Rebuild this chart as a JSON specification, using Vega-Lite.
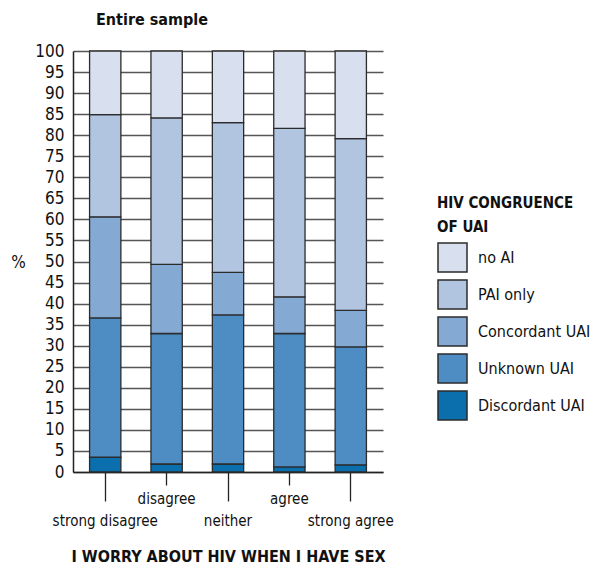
{
  "$schema": "https://vega.github.io/schema/vega-lite/v6.json",
  "width": 310,
  "height": 421,
  "autosize": {"type": "none"},
  "padding": {"left": 73, "top": 51, "right": 209, "bottom": 95},
  "background": "white",
  "config": {
    "font": "DejaVu Sans Condensed, Lato, sans-serif",
    "view": {"stroke": null}
  },
  "title": {
    "text": "Entire sample",
    "anchor": "start",
    "frame": "group",
    "dx": 23,
    "offset": 14,
    "font": "DejaVu Sans Condensed, Lato, sans-serif",
    "fontSize": 16,
    "fontWeight": "bold",
    "color": "#111"
  },
  "data": {
    "values": [
      {"worry": "strong disagree", "type": "Discordant UAI", "pct": 3.5},
      {"worry": "strong disagree", "type": "Unknown UAI", "pct": 33.1},
      {"worry": "strong disagree", "type": "Concordant UAI", "pct": 24.0},
      {"worry": "strong disagree", "type": "PAI only", "pct": 24.3},
      {"worry": "strong disagree", "type": "no AI", "pct": 15.1},
      {"worry": "disagree", "type": "Discordant UAI", "pct": 1.9},
      {"worry": "disagree", "type": "Unknown UAI", "pct": 31.0},
      {"worry": "disagree", "type": "Concordant UAI", "pct": 16.4},
      {"worry": "disagree", "type": "PAI only", "pct": 34.8},
      {"worry": "disagree", "type": "no AI", "pct": 15.9},
      {"worry": "neither", "type": "Discordant UAI", "pct": 1.9},
      {"worry": "neither", "type": "Unknown UAI", "pct": 35.4},
      {"worry": "neither", "type": "Concordant UAI", "pct": 10.1},
      {"worry": "neither", "type": "PAI only", "pct": 35.6},
      {"worry": "neither", "type": "no AI", "pct": 17.0},
      {"worry": "agree", "type": "Discordant UAI", "pct": 1.2},
      {"worry": "agree", "type": "Unknown UAI", "pct": 31.7},
      {"worry": "agree", "type": "Concordant UAI", "pct": 8.7},
      {"worry": "agree", "type": "PAI only", "pct": 40.0},
      {"worry": "agree", "type": "no AI", "pct": 18.4},
      {"worry": "strong agree", "type": "Discordant UAI", "pct": 1.7},
      {"worry": "strong agree", "type": "Unknown UAI", "pct": 28.0},
      {"worry": "strong agree", "type": "Concordant UAI", "pct": 8.7},
      {"worry": "strong agree", "type": "PAI only", "pct": 40.8},
      {"worry": "strong agree", "type": "no AI", "pct": 20.8}
    ]
  },
  "transform": [
    {"calculate": "indexof(['Discordant UAI','Unknown UAI','Concordant UAI','PAI only','no AI'], datum.type)", "as": "stackOrder"}
  ],
  "mark": {"type": "bar", "stroke": "#2b2b2b", "strokeWidth": 1.3},
  "encoding": {
    "x": {
      "field": "worry",
      "type": "nominal",
      "sort": ["strong disagree", "disagree", "neither", "agree", "strong agree"],
      "scale": {"paddingInner": 0.49, "paddingOuter": 0.27},
      "axis": {
        "title": "I WORRY ABOUT HIV WHEN I HAVE SEX",
        "titleFontSize": 16,
        "titleFontWeight": "bold",
        "titleColor": "#111",
        "titlePadding": 20,
        "labelAngle": 0,
        "labelFontSize": 15,
        "labelColor": "#111",
        "labelOverlap": false,
        "domainColor": "#222",
        "domainWidth": 1.5,
        "tickColor": "#222",
        "tickWidth": 1.3,
        "tickSize": {"condition": {"test": "datum.value === 'disagree' || datum.value === 'agree'", "value": 13}, "value": 29},
        "labelPadding": {"condition": {"test": "datum.value === 'disagree' || datum.value === 'agree'", "value": 6}, "value": 12},
        "grid": false
      }
    },
    "y": {
      "field": "pct",
      "type": "quantitative",
      "stack": "zero",
      "scale": {"domain": [0, 100], "nice": false},
      "axis": {
        "title": "%",
        "titleAngle": 0,
        "titleFontSize": 17,
        "titleFontWeight": "normal",
        "titleColor": "#111",
        "titleX": -55,
        "titleY": 211,
        "titleBaseline": "middle",
        "titleAlign": "center",
        "values": [0, 5, 10, 15, 20, 25, 30, 35, 40, 45, 50, 55, 60, 65, 70, 75, 80, 85, 90, 95, 100],
        "labelFontSize": 17,
        "labelColor": "#111",
        "labelPadding": 9,
        "labelOverlap": false,
        "ticks": false,
        "grid": true,
        "gridColor": "#555",
        "gridWidth": 1.6,
        "domainColor": "#222",
        "domainWidth": 1.5
      }
    },
    "color": {
      "field": "type",
      "type": "nominal",
      "scale": {
        "domain": ["no AI", "PAI only", "Concordant UAI", "Unknown UAI", "Discordant UAI"],
        "range": ["#d8dfee", "#b1c5e1", "#84a9d3", "#4d8dc4", "#0b6fae"]
      },
      "legend": {
        "title": ["HIV CONGRUENCE", "OF UAI"],
        "orient": "none",
        "legendX": 364,
        "legendY": 145,
        "titleFontSize": 15,
        "titleFontWeight": "bold",
        "titleColor": "#111",
        "titleLineHeight": 24,
        "titlePadding": 7,
        "titleLimit": 300,
        "symbolType": "square",
        "symbolSize": 841,
        "symbolStrokeColor": "#2b2b2b",
        "symbolStrokeWidth": 1.5,
        "symbolOpacity": 1,
        "labelFontSize": 16,
        "labelColor": "#111",
        "labelOffset": 10,
        "labelLimit": 300,
        "rowPadding": 2
      }
    },
    "order": {"field": "stackOrder", "type": "quantitative"}
  }
}
